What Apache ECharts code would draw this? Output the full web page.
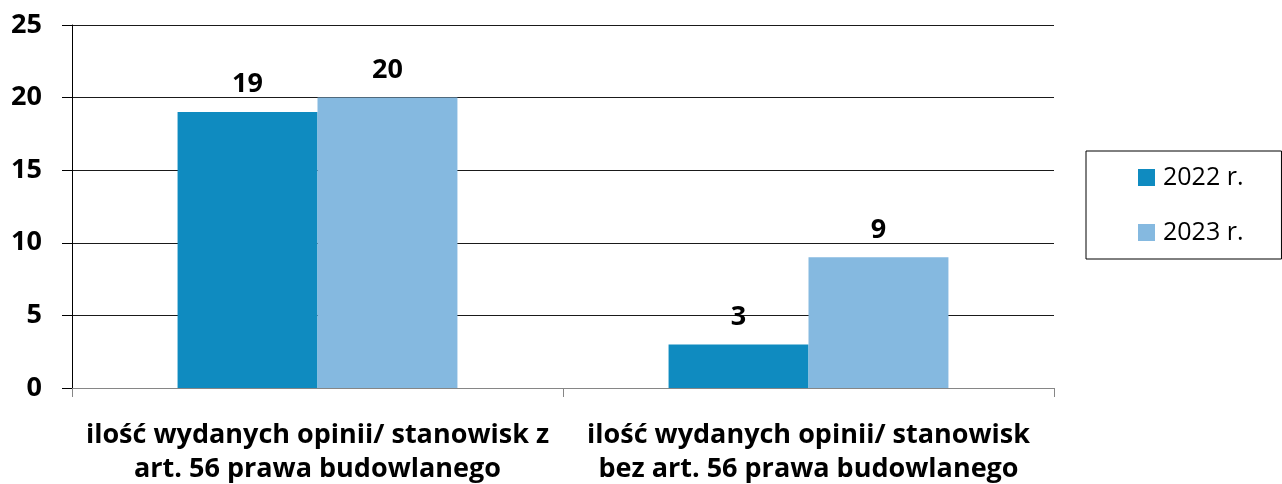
<!DOCTYPE html>
<html>
<head>
<meta charset="utf-8">
<script src="https://cdn.jsdelivr.net/npm/echarts@6/dist/echarts.min.js"></script>
<style>
html,body{margin:0;padding:0;background:#fff;}
#chart{width:1282px;height:484px;}
</style>
</head>
<body>
<div id="chart"></div>
<script>
var categories = ['ilość wydanych opinii/ stanowisk z\nart. 56 prawa budowlanego', 'ilość wydanych opinii/ stanowisk\nbez art. 56 prawa budowlanego'];
var seriesNames = ['2022 r.', '2023 r.'];
var values2022 = [19, 3];
var values2023 = [20, 9];

var chart = echarts.init(document.getElementById('chart'));
var font = '"Open Sans", sans-serif';

var labelStyle = {
	show: true,
	position: 'top',
	distance: 14,
	color: '#000',
	fontSize: 27,
	fontWeight: 'bold',
	fontFamily: font
};

var option = {
	animation: false,
	grid: {
		left: 72,
		right: 228,
		top: 25,
		bottom: 96,
		outerBoundsMode: 'none'
	},
	legend: {
		orient: 'vertical',
		left: 1086,
		top: 151,
		padding: [14, 38, 14, 52],
		itemGap: 30,
		itemWidth: 17,
		itemHeight: 17,
		borderColor: '#000',
		borderWidth: 1,
		icon: 'rect',
		textStyle: {
			color: '#000',
			fontSize: 25,
			fontFamily: font,
			padding: [0, 0, 0, 3]
		},
		data: seriesNames
	},
	xAxis: {
		type: 'category',
		data: categories,
		axisLine: { lineStyle: { color: '#868686', width: 1 } },
		axisTick: { show: true, length: 9, lineStyle: { color: '#868686' } },
		axisLabel: {
			color: '#000',
			fontSize: 27,
			fontWeight: 'bold',
			fontFamily: font,
			lineHeight: 34,
			margin: 30,
			interval: 0
		}
	},
	yAxis: {
		type: 'value',
		min: 0,
		max: 25,
		interval: 5,
		axisLine: { show: true, lineStyle: { color: '#000' } },
		axisTick: { show: true, length: 10, lineStyle: { color: '#000' } },
		splitLine: { lineStyle: { color: '#1a1a1a', width: 1 } },
		axisLabel: {
			color: '#000',
			fontSize: 27,
			fontWeight: 'bold',
			fontFamily: font,
			margin: 30
		}
	},
	series: [{
		name: seriesNames[0],
		type: 'bar',
		data: values2022,
		barGap: '0%',
		barCategoryGap: '43%',
		itemStyle: { color: '#0F8BC0' },
		label: labelStyle
	}, {
		name: seriesNames[1],
		type: 'bar',
		data: values2023,
		barGap: '0%',
		barCategoryGap: '43%',
		itemStyle: { color: '#85B9E0' },
		label: labelStyle
	}]
};
chart.setOption(option);
</script>
</body>
</html>
